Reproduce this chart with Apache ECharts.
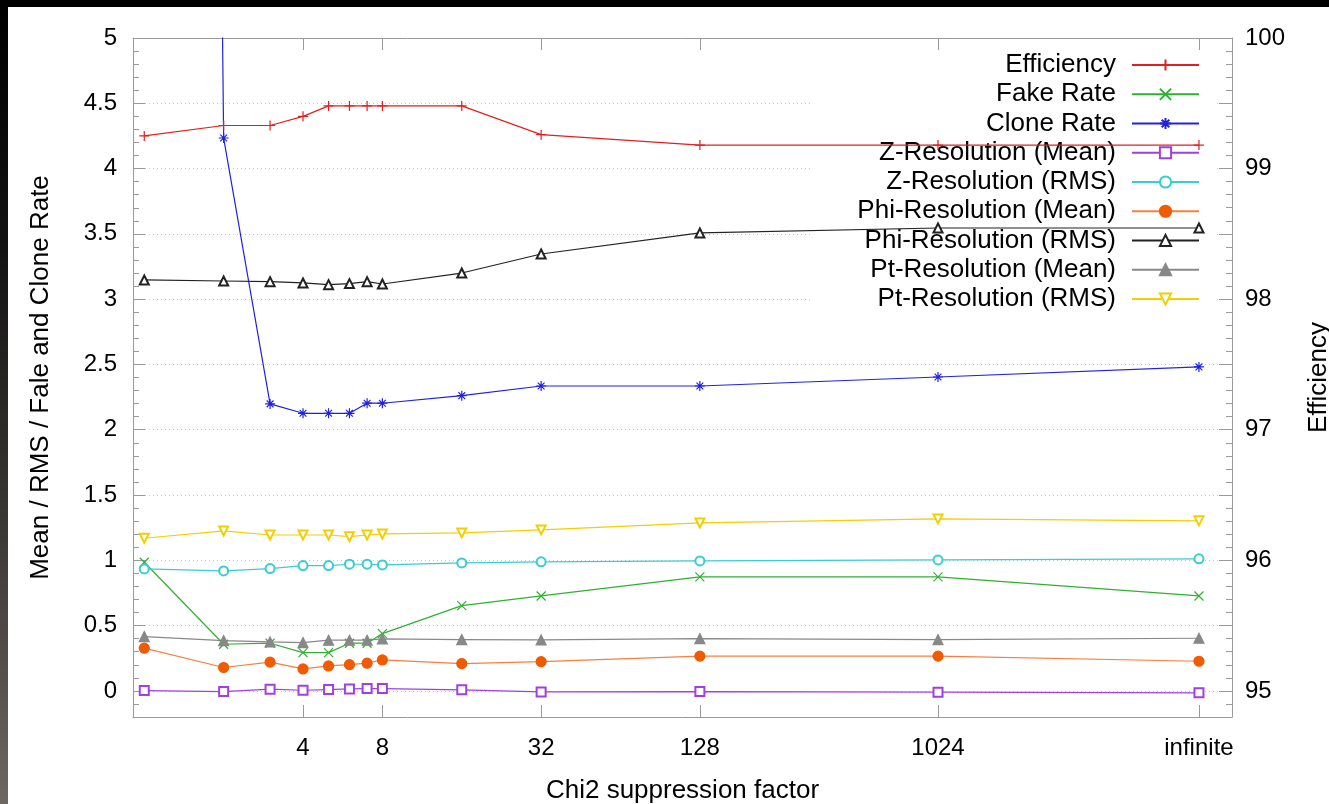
<!DOCTYPE html>
<html>
<head>
<meta charset="utf-8">
<title>Chi2 suppression factor</title>
<script src="https://cdn.jsdelivr.net/npm/echarts@6/dist/echarts.min.js"></script>
<style>
  html, body { margin: 0; padding: 0; background: #000; overflow: hidden; }
  #strip { position: absolute; left: 0; top: 0; width: 8px; height: 804px;
           background: linear-gradient(to bottom, #000 0%, #121212 30%, #3b3735 65%, #6e6662 100%); }
  #paper { position: absolute; left: 8px; top: 7px; width: 1321px; height: 797px; background: #fff; }
  #chart { position: absolute; left: 0; top: 0; width: 1329px; height: 804px; }
</style>
</head>
<body>
<div id="strip"></div>
<div id="paper"></div>
<div id="chart"></div>
<script>
// chi2 suppression factors, 10000 stands in for "infinite"
var factors = [1, 2, 3, 4, 5, 6, 7, 8, 16, 32, 128, 1024, 10000];
var tickValues = [4, 8, 32, 128, 1024, 10000];
var tickLabels = ['4', '8', '32', '128', '1024', 'infinite'];

var efficiency = [99.25, 99.33, 99.33, 99.40, 99.48, 99.48, 99.48, 99.48, 99.48, 99.26, 99.18, 99.18, 99.18];
var fakeRate   = [0.985, 0.357, 0.365, 0.293, 0.293, 0.365, 0.365, 0.439, 0.653, 0.727, 0.873, 0.873, 0.727];
var cloneRate  = [60, 4.234, 2.198, 2.126, 2.126, 2.126, 2.203, 2.203, 2.261, 2.335, 2.335, 2.404, 2.481];
var zResMean   = [0.002, -0.005, 0.013, 0.005, 0.010, 0.015, 0.018, 0.018, 0.008, -0.008, -0.005, -0.010, -0.015];
var zResRms    = [0.934, 0.919, 0.937, 0.960, 0.960, 0.970, 0.970, 0.965, 0.980, 0.988, 0.995, 1.003, 1.011];
var phiResMean = [0.327, 0.179, 0.220, 0.168, 0.191, 0.201, 0.212, 0.237, 0.209, 0.224, 0.266, 0.266, 0.227];
var phiResRms  = [3.147, 3.139, 3.134, 3.124, 3.111, 3.119, 3.134, 3.116, 3.200, 3.346, 3.507, 3.545, 3.545];
var ptResMean  = [0.416, 0.385, 0.375, 0.370, 0.388, 0.388, 0.388, 0.398, 0.393, 0.390, 0.400, 0.393, 0.403];
var ptResRms   = [1.169, 1.225, 1.194, 1.194, 1.194, 1.181, 1.194, 1.202, 1.210, 1.233, 1.286, 1.317, 1.302];

var FONT = '"Liberation Sans", Arial, sans-serif';
var AXIS_GRAY = '#9a9a9a';

var PLUS = 'path://M5,0L5,10M0,5L10,5';
var CROSS = 'path://M0,0L10,10M0,10L10,0';
var STAR = 'path://M5,0L5,10M0,5L10,5M1.6,1.6L8.4,8.4M1.6,8.4L8.4,1.6';

var seriesDefs = [
  { name: 'Efficiency', data: efficiency, color: '#e02020', symbol: PLUS, size: 10, axis: 1 },
  { name: 'Fake Rate', data: fakeRate, color: '#30b030', symbol: CROSS, size: 9 },
  { name: 'Clone Rate', data: cloneRate, color: '#2222dd', symbol: STAR, size: 10 },
  { name: 'Z-Resolution (Mean)', data: zResMean, color: '#a040e0', symbol: 'emptyRect', size: 9 },
  { name: 'Z-Resolution (RMS)', data: zResRms, color: '#38cdd2', symbol: 'emptyCircle', size: 9 },
  { name: 'Phi-Resolution (Mean)', data: phiResMean, color: '#f05a00', line: '#f68040', symbol: 'circle', size: 10 },
  { name: 'Phi-Resolution (RMS)', data: phiResRms, color: '#222222', symbol: 'emptyTriangle', size: 9 },
  { name: 'Pt-Resolution (Mean)', data: ptResMean, color: '#888888', symbol: 'triangle', size: 10 },
  { name: 'Pt-Resolution (RMS)', data: ptResRms, color: '#f2cf00', symbol: 'emptyTriangle', size: 9, rotate: 180 }
];

function log2(v) { return Math.log(v) / Math.LN2; }

var tickPos = tickValues.map(log2);

function tickLabel(v) {
  for (var i = 0; i < tickPos.length; i++) {
    if (Math.abs(tickPos[i] - v) < 1e-6) return tickLabels[i];
  }
  return '';
}

var series = seriesDefs.map(function (d) {
  return {
    name: d.name,
    type: 'line',
    yAxisIndex: d.axis || 0,
    data: factors.map(function (f, i) { return [log2(f), d.data[i]]; }),
    symbol: d.symbol,
    symbolSize: d.size,
    symbolRotate: d.rotate || 0,
    showSymbol: true,
    lineStyle: { color: d.line || d.color, width: 1.2 },
    itemStyle: { color: d.color, borderColor: d.color, borderWidth: 1.2 },
    emphasis: { disabled: true },
    z: 2
  };
});

var chart = echarts.init(document.getElementById('chart'), null, { renderer: 'canvas' });

chart.setOption({
  animation: false,
  backgroundColor: 'transparent',
  textStyle: { fontFamily: FONT },
  grid: { left: 133, right: 97, top: 38, bottom: 87, containLabel: false, outerBoundsMode: 'none' },
  legend: {
    orient: 'vertical',
    right: 114,
    top: 52,
    align: 'right',
    itemWidth: 67,
    itemHeight: 14,
    itemGap: 3.25,
    padding: [0, 15, 0, 46],
    backgroundColor: '#fff',
    z: 1,
    selectedMode: false,
    textStyle: { fontFamily: FONT, fontSize: 26, color: '#000', lineHeight: 26, padding: [0, 11, 0, 0] },
    data: seriesDefs.map(function (d) { return d.name; })
  },
  xAxis: [{
    type: 'value',
    position: 'bottom',
    min: -0.142,
    max: 13.704,
    name: 'Chi2 suppression factor',
    nameLocation: 'middle',
    nameGap: 61,
    nameTextStyle: { fontFamily: FONT, fontSize: 26, color: '#000' },
    axisLine: { show: true, onZero: false, lineStyle: { color: AXIS_GRAY, width: 1 } },
    axisTick: { show: true, inside: true, length: 12, customValues: tickPos, lineStyle: { color: AXIS_GRAY } },
    axisLabel: { customValues: tickPos, formatter: tickLabel, fontFamily: FONT, fontSize: 24, color: '#000', margin: 19 },
    splitLine: { show: false }
  }, {
    type: 'value',
    position: 'top',
    min: -0.142,
    max: 13.704,
    axisLine: { show: true, onZero: false, lineStyle: { color: AXIS_GRAY, width: 1 } },
    axisTick: { show: true, inside: true, length: 12, customValues: tickPos, lineStyle: { color: AXIS_GRAY } },
    axisLabel: { show: false },
    splitLine: { show: false }
  }],
  yAxis: [{
    type: 'value',
    position: 'left',
    min: -0.2,
    max: 5,
    minInterval: 0.5,
    maxInterval: 0.5,
    name: 'Mean / RMS / Fale and Clone Rate',
    nameLocation: 'middle',
    nameRotate: 90,
    nameGap: 79,
    nameTextStyle: { fontFamily: FONT, fontSize: 26, color: '#000' },
    axisLine: { show: true, onZero: false, lineStyle: { color: AXIS_GRAY, width: 1 } },
    axisTick: { show: true, inside: true, length: 12, lineStyle: { color: AXIS_GRAY } },
    minorTick: { show: true, splitNumber: 5, length: 6, lineStyle: { color: AXIS_GRAY } },
    axisLabel: { showMinLabel: false, fontFamily: FONT, fontSize: 24, color: '#000', margin: 16 },
    splitLine: { show: true, lineStyle: { color: '#c8c8c8', type: [1, 3], width: 1 } }
  }, {
    type: 'value',
    position: 'right',
    min: 94.8,
    max: 100,
    minInterval: 0.5,
    maxInterval: 0.5,
    name: 'Efficiency',
    nameLocation: 'middle',
    nameRotate: 90,
    nameGap: 74,
    nameTextStyle: { fontFamily: FONT, fontSize: 26, color: '#000' },
    axisLine: { show: true, onZero: false, lineStyle: { color: AXIS_GRAY, width: 1 } },
    axisTick: { show: true, inside: true, length: 13, lineStyle: { color: AXIS_GRAY } },
    minorTick: { show: true, splitNumber: 5, length: 6, lineStyle: { color: AXIS_GRAY } },
    axisLabel: {
      showMinLabel: false,
      fontFamily: FONT, fontSize: 24, color: '#000', margin: 13,
      formatter: function (v) { return Math.abs(v - Math.round(v)) < 1e-6 ? String(Math.round(v)) : ''; }
    },
    splitLine: { show: false }
  }],
  series: series
});
</script>
</body>
</html>
